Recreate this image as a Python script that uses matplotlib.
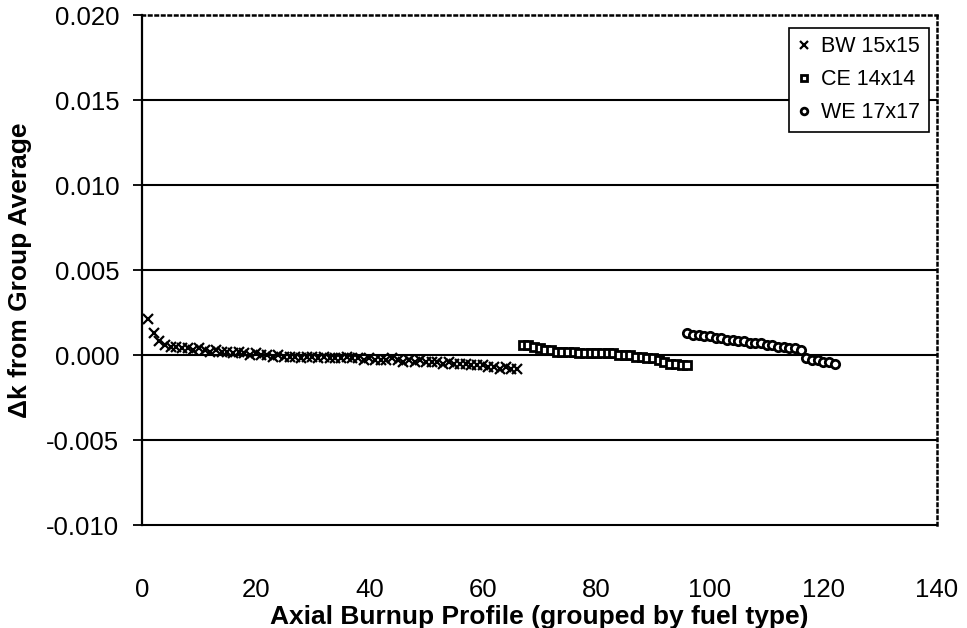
import numpy as np
from matplotlib import pyplot as plt

plt.rcParams['font.family'] = ['Liberation Sans', 'DejaVu Sans']

# delta-k of each axial profile relative to its group average
bw_x = list(range(1, 67))
bw_dk = [0.0021, 0.0013, 0.0008, 0.0006, 0.0005, 0.0005, 0.0004, 0.0004, 0.0003, 0.0004,
         0.0003, 0.0002, 0.0003, 0.0002, 0.0002, 0.0001, 0.0002, 0.0001, 0.0000, 0.0001,
         0.0000, 0.0000, -0.0001, 0.0000, -0.0001, -0.0001, -0.0001, -0.0002, -0.0001, -0.0001,
         -0.0002, -0.0001, -0.0002, -0.0002, -0.0002, -0.0001, -0.0002, -0.0002, -0.0003, -0.0002,
         -0.0003, -0.0003, -0.0003, -0.0002, -0.0003, -0.0004, -0.0003, -0.0004, -0.0003, -0.0004,
         -0.0004, -0.0004, -0.0005, -0.0004, -0.0005, -0.0005, -0.0005, -0.0006, -0.0006, -0.0006,
         -0.0007, -0.0007, -0.0008, -0.0007, -0.0008, -0.0008]

ce_x = list(range(67, 97))
ce_dk = [0.0006, 0.0006, 0.0005, 0.0004, 0.0003, 0.0003, 0.0002, 0.0002, 0.0002, 0.0002,
         0.0001, 0.0001, 0.0001, 0.0001, 0.0001, 0.0001, 0.0001, 0.0000, 0.0000, 0.0000,
         -0.0001, -0.0001, -0.0002, -0.0002, -0.0003, -0.0004, -0.0005, -0.0005, -0.0006, -0.0006]

we_x = list(range(96, 123))
we_dk = [0.0013, 0.0012, 0.0012, 0.0011, 0.0011, 0.0010, 0.0010, 0.0009, 0.0009, 0.0008,
         0.0008, 0.0007, 0.0007, 0.0007, 0.0006, 0.0006, 0.0005, 0.0005, 0.0004, 0.0004,
         0.0003, -0.0002, -0.0003, -0.0003, -0.0004, -0.0004, -0.0005]

x_ticks = [0, 20, 40, 60, 80, 100, 120, 140]
y_ticks = [-0.010, -0.005, 0.000, 0.005, 0.010, 0.015, 0.020]

fig = plt.figure(figsize=(9.67, 6.28), dpi=100)
ax = fig.add_axes([0.147, 0.164, 0.822, 0.812])

# solid reference lines inside the frame
for yv in y_ticks[1:-1]:
    ax.axhline(yv, color='black', lw=1.5, zorder=1)

ax.plot(bw_x, bw_dk, ls='none', marker='x', ms=7.5, mew=1.6, color='black',
        label='BW 15x15', zorder=3)
ax.plot(ce_x, ce_dk, ls='none', marker='s', ms=6, mew=2, mfc='white', mec='black',
        label='CE 14x14', zorder=3)
ax.plot(we_x, we_dk, ls='none', marker='o', ms=6, mew=2, mfc='white', mec='black',
        label='WE 17x17', zorder=3)

ax.set_xlim(0, 140)
ax.set_ylim(-0.010, 0.020)
ax.set_xticks(x_ticks)
ax.set_yticks(y_ticks)
ax.set_yticklabels(['%.3f' % v for v in y_ticks])

ax.tick_params(axis='x', length=0, pad=38, labelsize=18.5)
ax.tick_params(axis='y', direction='out', length=6.5, width=1.3, pad=10, labelsize=18.5)

ax.spines['left'].set_linewidth(1.6)
ax.spines['bottom'].set_linewidth(1.5)
for side in ['top', 'right']:
    ax.spines[side].set_linestyle((0, (1, 1.6)))
    ax.spines[side].set_linewidth(1.8)

ax.set_xlabel('Axial Burnup Profile (grouped by fuel type)', fontsize=19,
              fontweight='bold', labelpad=2)
ax.set_ylabel('\u0394k from Group Average', fontsize=19, fontweight='bold', labelpad=10)

leg = ax.legend(loc='upper right', bbox_to_anchor=(0.99, 0.975), fontsize=15.5,
                frameon=True, fancybox=False, edgecolor='black', framealpha=1,
                handlelength=0.6, handletextpad=0.5, borderpad=0.4, labelspacing=0.55,
                borderaxespad=0, markerscale=0.8)
leg.get_frame().set_linewidth(1.2)
leg.set_zorder(5)

fig.savefig('out.png', dpi=100)
